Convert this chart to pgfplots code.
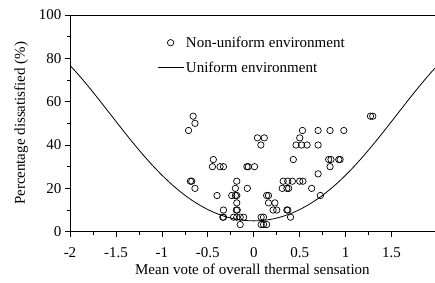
\documentclass[border=0pt]{standalone}
\usepackage{fontspec}
\setmainfont{Liberation Serif}
\usepackage{pgfplots}
\pgfplotsset{compat=1.18}
\pgfplotsset{
  mylegline/.style={legend image code/.code={\draw[##1] (0bp,0bp) -- (26bp,0bp);}},
  mylegmark/.style={legend image code/.code={\draw[##1] plot coordinates {(13bp,0bp)};}},
}
\begin{document}
\begin{tikzpicture}[font=\fontsize{15bp}{18bp}\selectfont]
\begin{axis}[
  scale only axis, width=364.8bp, height=216.7bp,
  xmin=-2, xmax=1.97, ymin=0, ymax=100,
  axis x line*=box, axis y line*=left,
  axis line style={black, line width=0.8bp},
  xtick={-2,-1.5,...,1.5}, minor x tick num=1,
  ytick={0,20,...,100}, minor y tick num=1,
  xtick pos=left, ytick pos=left,
  tick align=outside,
  major tick length=5bp, minor tick length=3bp,
  tick style={black, line width=0.7bp},
  /pgf/number format/assume math mode=true,
  tick label style={font=\fontsize{15bp}{18bp}\selectfont},
  xticklabel style={yshift=-7bp, /pgf/number format/.cd, fixed, precision=1},
  label style={font=\fontsize{15bp}{18bp}\selectfont},
  xlabel={Mean vote of overall thermal sensation},
  xlabel style={yshift=0bp},
  ylabel={Percentage dissatisfied (\%)},
  ylabel shift=4bp,
  legend style={draw=none, fill=none, at={(0.2385,0.91)}, anchor=north west,
    inner sep=0pt, row sep=9bp, font=\fontsize{15bp}{18bp}\selectfont},
  legend cell align=left,
]
\addplot[only marks, mark=o, mark size=3.2bp, black, line width=0.7bp, mylegmark]
coordinates {
(-0.71,46.7) (-0.66,53.3) (-0.64,50) (-0.69,23.3) (-0.675,23.3) (-0.64,20)
(-0.44,33.3) (-0.45,30) (-0.367,30) (-0.33,30) (-0.40,16.7) (-0.33,10)
(-0.337,6.7) (-0.33,6.7) (-0.22,6.7) (-0.185,6.7) (-0.148,6.7) (-0.11,6.7)
(-0.148,3.3) (-0.185,23.3) (-0.20,20) (-0.24,16.7) (-0.20,16.7) (-0.185,16.7)
(-0.185,13.3) (-0.19,10) (-0.18,10) (-0.07,20) (-0.075,30) (-0.06,30)
(0.008,30) (0.04,43.3) (0.114,43.3) (0.077,40) (0.14,16.7) (0.16,16.7)
(0.16,13.3) (0.23,13.3) (0.21,10) (0.25,10) (0.08,6.7) (0.106,6.7)
(0.08,3.3) (0.106,3.3) (0.14,3.3) (0.36,10) (0.37,10) (0.40,6.7)
(0.31,20) (0.32,23.3) (0.37,23.3) (0.42,23.3) (0.36,20) (0.38,20)
(0.43,33.3) (0.46,40) (0.52,40) (0.58,40) (0.50,43.3) (0.53,46.7)
(0.50,23.3) (0.535,23.3) (0.63,20) (0.70,46.7) (0.70,40) (0.70,26.7)
(0.725,16.7) (0.83,46.7) (0.815,33.3) (0.84,33.3) (0.83,30) (0.925,33.3)
(0.94,33.3) (0.98,46.7) (1.27,53.3) (1.295,53.3)
};
\addlegendentry{Non-uniform environment}
\addplot[black, line width=0.8bp, smooth, no marks, mylegline]
coordinates {
(-2.0,76.76) (-1.9,72.05) (-1.8,67.02) (-1.7,61.75) (-1.6,56.34) (-1.5,50.90)
(-1.4,45.51) (-1.3,40.27) (-1.2,35.25) (-1.1,30.51) (-1.0,26.12) (-0.9,22.10)
(-0.8,18.49) (-0.7,15.30) (-0.6,12.55) (-0.5,10.23) (-0.4,8.33) (-0.3,6.87)
(-0.2,5.83) (-0.1,5.21) (0,5.00) (0.1,5.21) (0.2,5.83) (0.3,6.87) (0.4,8.33)
(0.5,10.23) (0.6,12.55) (0.7,15.30) (0.8,18.49) (0.9,22.10) (1.0,26.12)
(1.1,30.51) (1.2,35.25) (1.3,40.27) (1.4,45.51) (1.5,50.90) (1.6,56.34)
(1.7,61.75) (1.8,67.02) (1.9,72.05) (1.97,75.42)
};
\addlegendentry{Uniform environment}
\end{axis}
\pgfresetboundingbox
\path[use as bounding box] ([shift={(-70bp,-51.3bp)}]current axis.south west) rectangle ++(435bp,283bp);
\end{tikzpicture}
\end{document}
